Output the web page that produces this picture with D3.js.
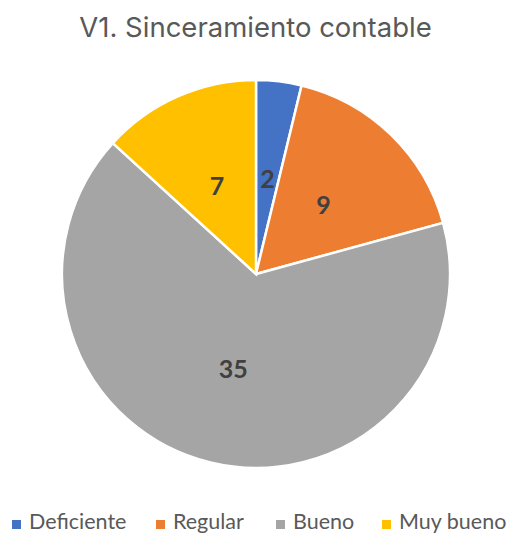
<!DOCTYPE html>
<html><head><meta charset="utf-8">
<script src="https://cdn.jsdelivr.net/npm/d3@7"></script>
<style>body{margin:0;background:#fff}</style>
</head><body>
<svg id="c" width="515" height="534"></svg>
<script>
const categories = ["Deficiente","Regular","Bueno","Muy bueno"];
const values = [2, 9, 35, 7];
const colors = ["#4472C4","#ED7D31","#A5A5A5","#FFC000"];
const title = "V1. Sinceramiento contable";

const svg = d3.select("#c");
const cx = 256, cy = 274, r = 194;
svg.append("text").attr("x", 255.5).attr("y", 37).attr("text-anchor","middle")
  .attr("font-family","Inter, 'Open Sans', sans-serif").attr("font-size", 27.5)
  .attr("fill","#595959").text(title);

const data = categories.map((c,i)=>({c, v: values[i], col: colors[i]}));
const pie = d3.pie().value(d=>d.v).sort(null);
const arcs = pie(data);
const arc = d3.arc().innerRadius(0).outerRadius(r);
const labelArc = d3.arc().innerRadius(r*0.5).outerRadius(r*0.5);
const g = svg.append("g").attr("transform",`translate(${cx},${cy})`);
g.selectAll("path").data(arcs).join("path").attr("d",arc)
  .attr("fill",d=>d.data.col).attr("stroke","#fff").attr("stroke-width",2.5);
g.selectAll("text").data(arcs).join("text")
  .attr("transform",d=>`translate(${labelArc.centroid(d)})`)
  .attr("text-anchor","middle").attr("dominant-baseline","central")
  .attr("font-family","Lato, 'Open Sans', sans-serif").attr("font-weight","bold")
  .attr("font-size",25).attr("fill","#404040").text(d=>d.data.v);

const legX = [12, 156, 276, 382];
const lg = svg.append("g");
data.forEach((d,i)=>{
  lg.append("rect").attr("x",legX[i]).attr("y",520).attr("width",9).attr("height",9).attr("fill",d.col);
  lg.append("text").attr("x",legX[i]+17).attr("y",529)
    .attr("font-family","Lato, 'Open Sans', sans-serif").attr("font-size",21.5)
    .attr("fill","#595959").text(d.c);
});
</script>
</body></html>
